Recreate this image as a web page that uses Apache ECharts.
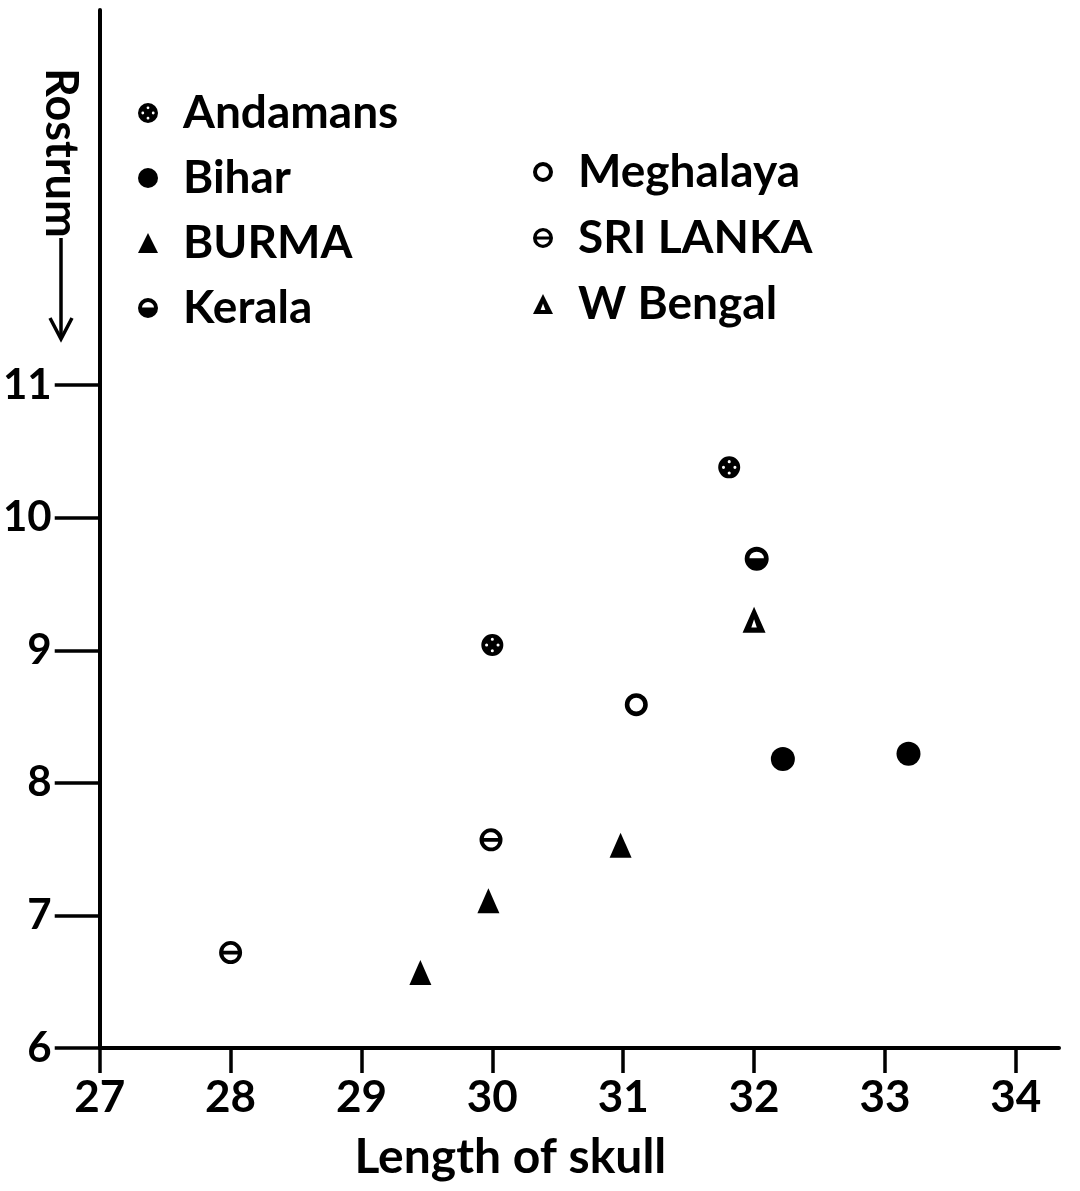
<!DOCTYPE html>
<html>
<head>
<meta charset="utf-8">
<script src="https://cdn.jsdelivr.net/npm/echarts@6/dist/echarts.min.js"></script>
<style>
  html, body { margin: 0; padding: 0; background: #fff; }
  #chart { width: 1080px; height: 1191px; }
</style>
</head>
<body>
<div id="chart"></div>
<script>
// ---- data ----
const xTicks = [27, 28, 29, 30, 31, 32, 33, 34];
const yTicks = [6, 7, 8, 9, 10, 11];

const andamansX = [30.0, 31.81];
const andamansY = [9.04, 10.38];
const biharX = [32.22, 33.18];
const biharY = [8.18, 8.22];
const burmaX = [29.45, 29.97, 30.98];
const burmaY = [6.57, 7.11, 7.53];
const keralaX = [32.02];
const keralaY = [9.69];
const meghalayaX = [31.1];
const meghalayaY = [8.59];
const sriLankaX = [28.0, 29.99];
const sriLankaY = [6.72, 7.57];
const wBengalX = [32.0];
const wBengalY = [9.23];

const leftLegend = ['Andamans', 'Bihar', 'BURMA', 'Kerala'];
const rightLegend = ['Meghalaya', 'SRI LANKA', 'W Bengal'];

// ---- marker shapes (100x100 box, holes wound opposite) ----
const OUTER = 'M50,0A50,50,0,1,1,50,100A50,50,0,1,1,50,0Z';
function hole(cx, cy, r) {
  return 'M' + cx + ',' + (cy - r) + 'A' + r + ',' + r + ',0,1,0,' + cx + ',' + (cy + r) +
         'A' + r + ',' + r + ',0,1,0,' + cx + ',' + (cy - r) + 'Z';
}
const SYM_ANDAMANS = 'path://' + OUTER + hole(50, 24, 7) + hole(24, 50, 7) + hole(76, 50, 7) + hole(50, 76, 7);
const SYM_KERALA = 'path://' + OUTER + 'M80,48A30,28,0,0,0,20,48Z';
const SYM_MEGHALAYA = 'path://' + OUTER + hole(50, 50, 30);
const SYM_SRILANKA = 'path://' + OUTER + 'M81.3,42A32,32,0,0,0,18.7,42Z' + 'M18.7,58A32,32,0,0,0,81.3,58Z';
const SYM_TRI = 'path://M50,0L100,100L0,100Z';
const SYM_TRI_OPEN = 'path://M50,0L100,100L0,100ZM50,48L38,80L62,80Z';

function pts(xs, ys) { return xs.map((x, i) => [x, ys[i]]); }

const FONT = 'Lato, "Open Sans", sans-serif';
const NUMFONT = 'Lato, sans-serif';

const chart = echarts.init(document.getElementById('chart'), null, { renderer: 'canvas' });

function scatter(name, xs, ys, symbol, size) {
  return {
    name: name,
    type: 'scatter',
    data: pts(xs, ys),
    symbol: symbol,
    symbolSize: size,
    itemStyle: { color: '#000', opacity: 1 },
    emphasis: { disabled: true }
  };
}

const legendText = {
  fontFamily: FONT, fontWeight: 'bold', fontSize: 46, lineHeight: 46,
  color: '#000', padding: [0, 0, 0, 20]
};

chart.setOption({
  backgroundColor: '#fff',
  animation: false,
  grid: { left: 97, right: 21, top: 10, bottom: 143, containLabel: false },
  legend: [
    {
      data: leftLegend, orient: 'vertical', left: 133, top: 85,
      itemWidth: 20, itemHeight: 20, itemGap: 19, selectedMode: false,
      textStyle: legendText
    },
    {
      data: rightLegend, orient: 'vertical', left: 528, top: 144,
      itemWidth: 20, itemHeight: 20, itemGap: 20, selectedMode: false,
      textStyle: legendText
    }
  ],
  xAxis: {
    type: 'value', min: 27, max: 34.33,
    name: 'Length of skull', nameLocation: 'middle', nameGap: 86,
    nameTextStyle: { fontFamily: FONT, fontWeight: 'bold', fontSize: 48, color: '#000', padding: [0, 138, 0, 0] },
    axisLine: { onZero: false, lineStyle: { color: '#000', width: 4 } },
    axisTick: { show: true, customValues: xTicks, length: 25, lineStyle: { color: '#000', width: 3.5 } },
    axisLabel: { customValues: xTicks, margin: 28, fontFamily: NUMFONT, fontWeight: 'bold', fontSize: 44, color: '#000' },
    splitLine: { show: false }
  },
  yAxis: {
    type: 'value', min: 6, max: 13.83,
    axisLine: { onZero: false, lineStyle: { color: '#000', width: 4 } },
    axisTick: { show: true, customValues: yTicks, length: 45, lineStyle: { color: '#000', width: 3.5 } },
    axisLabel: { customValues: yTicks, margin: 48, fontFamily: NUMFONT, fontWeight: 'bold', fontSize: 42, color: '#000' },
    splitLine: { show: false }
  },
  graphic: [
    {
      type: 'text', x: 61, y: 68, rotation: -Math.PI / 2,
      style: { text: 'Rostrum', fontFamily: FONT, fontWeight: 'bold', fontSize: 45, fill: '#000', align: 'left', verticalAlign: 'middle' }
    },
    { type: 'line', shape: { x1: 61, y1: 238, x2: 61, y2: 338 }, style: { stroke: '#000', lineWidth: 3.5 } },
    { type: 'polyline', shape: { points: [[50, 318], [61, 339], [72, 318]] }, style: { stroke: '#000', lineWidth: 3.5, fill: null } }
  ],
  series: [
    scatter('Andamans', andamansX, andamansY, SYM_ANDAMANS, 22),
    scatter('Bihar', biharX, biharY, 'circle', 24),
    scatter('BURMA', burmaX, burmaY, SYM_TRI, [22, 25]),
    scatter('Kerala', keralaX, keralaY, SYM_KERALA, 24),
    scatter('Meghalaya', meghalayaX, meghalayaY, SYM_MEGHALAYA, 23),
    scatter('SRI LANKA', sriLankaX, sriLankaY, SYM_SRILANKA, 23),
    scatter('W Bengal', wBengalX, wBengalY, SYM_TRI_OPEN, [23, 26])
  ]
});
</script>
</body>
</html>
